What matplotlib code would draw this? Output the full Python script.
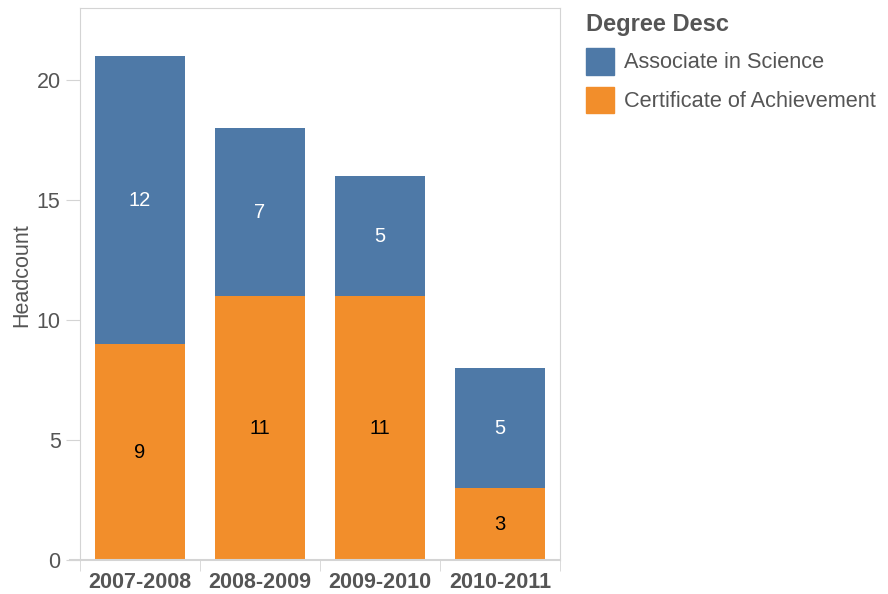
import matplotlib.pyplot as plt
from matplotlib.patches import Patch

plt.rcParams['font.family'] = ['Liberation Sans', 'DejaVu Sans']

years = ['2007-2008', '2008-2009', '2009-2010', '2010-2011']
certificate = [9, 11, 11, 3]
associate = [12, 7, 5, 5]

blue = '#4e79a7'
orange = '#f28e2b'
grid_gray = '#d4d4d4'
text_gray = '#555555'

fig = plt.figure(figsize=(8.88, 5.94), dpi=100)
ax = fig.add_axes([80 / 888, 34 / 594, 480 / 888, 552 / 594])

x = list(range(len(years)))
ax.bar(x, certificate, width=0.75, color=orange)
ax.bar(x, associate, width=0.75, bottom=certificate, color=blue)

# segment labels
for i in x:
    ax.text(i, certificate[i] / 2, str(certificate[i]), ha='center', va='center',
            fontsize=14.5, color='black')
    ax.text(i, certificate[i] + associate[i] / 2, str(associate[i]), ha='center',
            va='center', fontsize=14.5, color='white')

ax.set_xlim(-0.5, 3.5)
ax.set_ylim(0, 23)
ax.set_yticks([0, 5, 10, 15, 20])
ax.tick_params(axis='y', length=10, color=grid_gray, labelsize=15.5,
               labelcolor=text_gray, pad=4)
ax.set_xticks(x)
ax.set_xticklabels(years, fontsize=15.5, fontweight='bold', color=text_gray)
ax.tick_params(axis='x', which='major', length=0, pad=9)
ax.set_xticks([-0.5, 0.5, 1.5, 2.5, 3.5], minor=True)
ax.tick_params(axis='x', which='minor', length=8, color=grid_gray)
ax.set_ylabel('Headcount', fontsize=15.5, color=text_gray, va='center')
ax.yaxis.set_label_coords(-58 / 480, 0.516)

for side in ['left', 'right', 'top']:
    ax.spines[side].set_color(grid_gray)
ax.spines['bottom'].set_visible(False)
ax.plot([-10 / 480, 1], [0, 0], transform=ax.transAxes, color=grid_gray,
        lw=1.5, clip_on=False)

handles = [Patch(color=blue), Patch(color=orange)]
leg = fig.legend(handles, ['Associate in Science', 'Certificate of Achievement'],
                 title='Degree Desc', loc='upper left',
                 bbox_to_anchor=(586 / 888, 1 - 13 / 594),
                 frameon=False, fontsize=15.7, title_fontsize=17,
                 handlelength=1.28, handleheight=1.5, handletextpad=0.46,
                 labelspacing=0.55, borderpad=0, borderaxespad=0,
                 alignment='left')
leg.get_title().set_fontweight('bold')
leg.get_title().set_color(text_gray)
for t in leg.get_texts():
    t.set_color(text_gray)

fig.savefig('out.png', dpi=100)
